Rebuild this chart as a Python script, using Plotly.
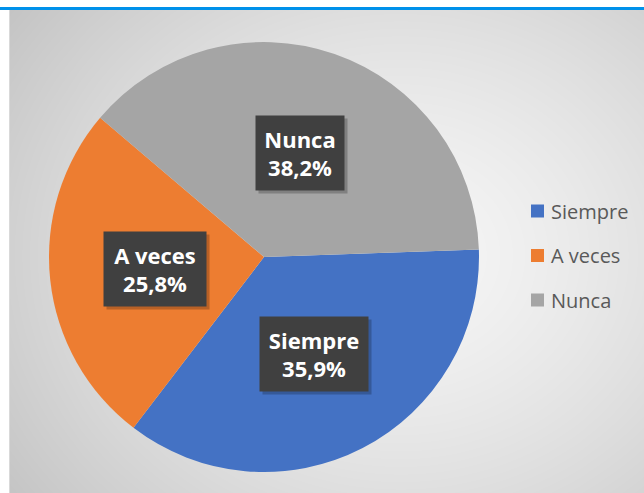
import numpy as np
import plotly.graph_objects as go

W, H = 644, 493

labels = ['Siempre', 'A veces', 'Nunca']
values = [35.9, 25.8, 38.2]
colors = ['#4472C4', '#ED7D31', '#A5A5A5']

# pie geometry in pixels
cx, cy, r = 264, 257, 215
rotation = 88
label_frac = 0.51
box_w = [90, 84, 70]   # inner width of the label boxes
box_h = 56

fig = go.Figure()

# soft radial background of the chart area
gx = np.linspace(9, W, 81)
gy = np.linspace(10, H, 61)
XX, YY = np.meshgrid(gx, gy)
d = np.sqrt(((XX - 400) / 420) ** 2 + ((YY - 255) / 360) ** 2)
shade = 246 - 50 * np.clip(d / 1.15, 0, 1) ** 1.4
fig.add_trace(go.Heatmap(
    x=gx, y=gy, z=shade, zmin=195, zmax=246, zsmooth='best',
    colorscale=[[0, 'rgb(195,195,195)'], [1, 'rgb(246,246,246)']],
    showscale=False, hoverinfo='skip'
))

fig.add_trace(go.Pie(
    labels=labels,
    values=values,
    marker=dict(colors=colors, line=dict(width=0)),
    sort=False,
    direction='clockwise',
    rotation=rotation,
    textinfo='none',
    showlegend=False,
    domain=dict(x=[(cx - r) / W, (cx + r) / W],
                y=[1 - (cy + r) / H, 1 - (cy - r) / H]),
    hovertemplate='%{label}: %{value}%<extra></extra>'
))

# data labels in dark boxes, each with a soft drop shadow
total = sum(values)
start = rotation
annotations = []
shadows = []
for lab, v, bw in zip(labels, values, box_w):
    span = v / total * 360
    mid = np.radians(start + span / 2)
    start += span
    px = cx + r * label_frac * np.sin(mid)
    py = cy - r * label_frac * np.cos(mid)
    txt = f'<b>{lab}<br>{v:.1f}%</b>'.replace('.', ',')
    common = dict(x=px, y=py, xref='x', yref='y', showarrow=False,
                  width=bw, height=box_h, borderpad=9)
    shadows.append(dict(common, text=' ', bgcolor='rgba(0,0,0,0.22)',
                        xshift=3, yshift=-3))
    annotations.append(dict(common, text=txt, bgcolor='#404040',
                            font=dict(family='Open Sans', size=22, color='white')))

# legend drawn by hand to get Excel-like spacing
shapes = []
leg_x, leg_y, leg_gap = 531, 211, 44.5
for i, (lab, c) in enumerate(zip(labels, colors)):
    yy = leg_y + i * leg_gap
    shapes.append(dict(type='rect', xref='x', yref='y', x0=leg_x, x1=leg_x + 13,
                       y0=yy - 6.5, y1=yy + 6.5, fillcolor=c, line=dict(width=0)))
    annotations.append(dict(x=leg_x + 18, y=yy, xref='x', yref='y', text=lab,
                            xanchor='left', showarrow=False,
                            font=dict(family='Open Sans', size=20, color='#595959')))

# blue rule under the cropped heading and chart border
shapes.append(dict(type='rect', xref='paper', yref='paper', x0=0, x1=1,
                   y0=1 - 10 / H, y1=1 - 7 / H, fillcolor='#0091EA', line=dict(width=0)))
shapes.append(dict(type='line', xref='x', yref='y', x0=9.5, x1=9.5, y0=10, y1=H,
                   line=dict(color='#D9D9D9', width=1)))

fig.update_layout(
    width=W, height=H,
    margin=dict(l=0, r=0, t=0, b=0),
    paper_bgcolor='white',
    plot_bgcolor='white',
    showlegend=False,
    xaxis=dict(domain=[9 / W, 1], range=[9, W], visible=False, fixedrange=True),
    yaxis=dict(domain=[0, 1 - 10 / H], range=[H, 10], visible=False, fixedrange=True),
    annotations=shadows + annotations,
    shapes=shapes,
)

fig.write_html('out.html', config={'displayModeBar': False},
               post_script="document.body.style.margin='0';")
